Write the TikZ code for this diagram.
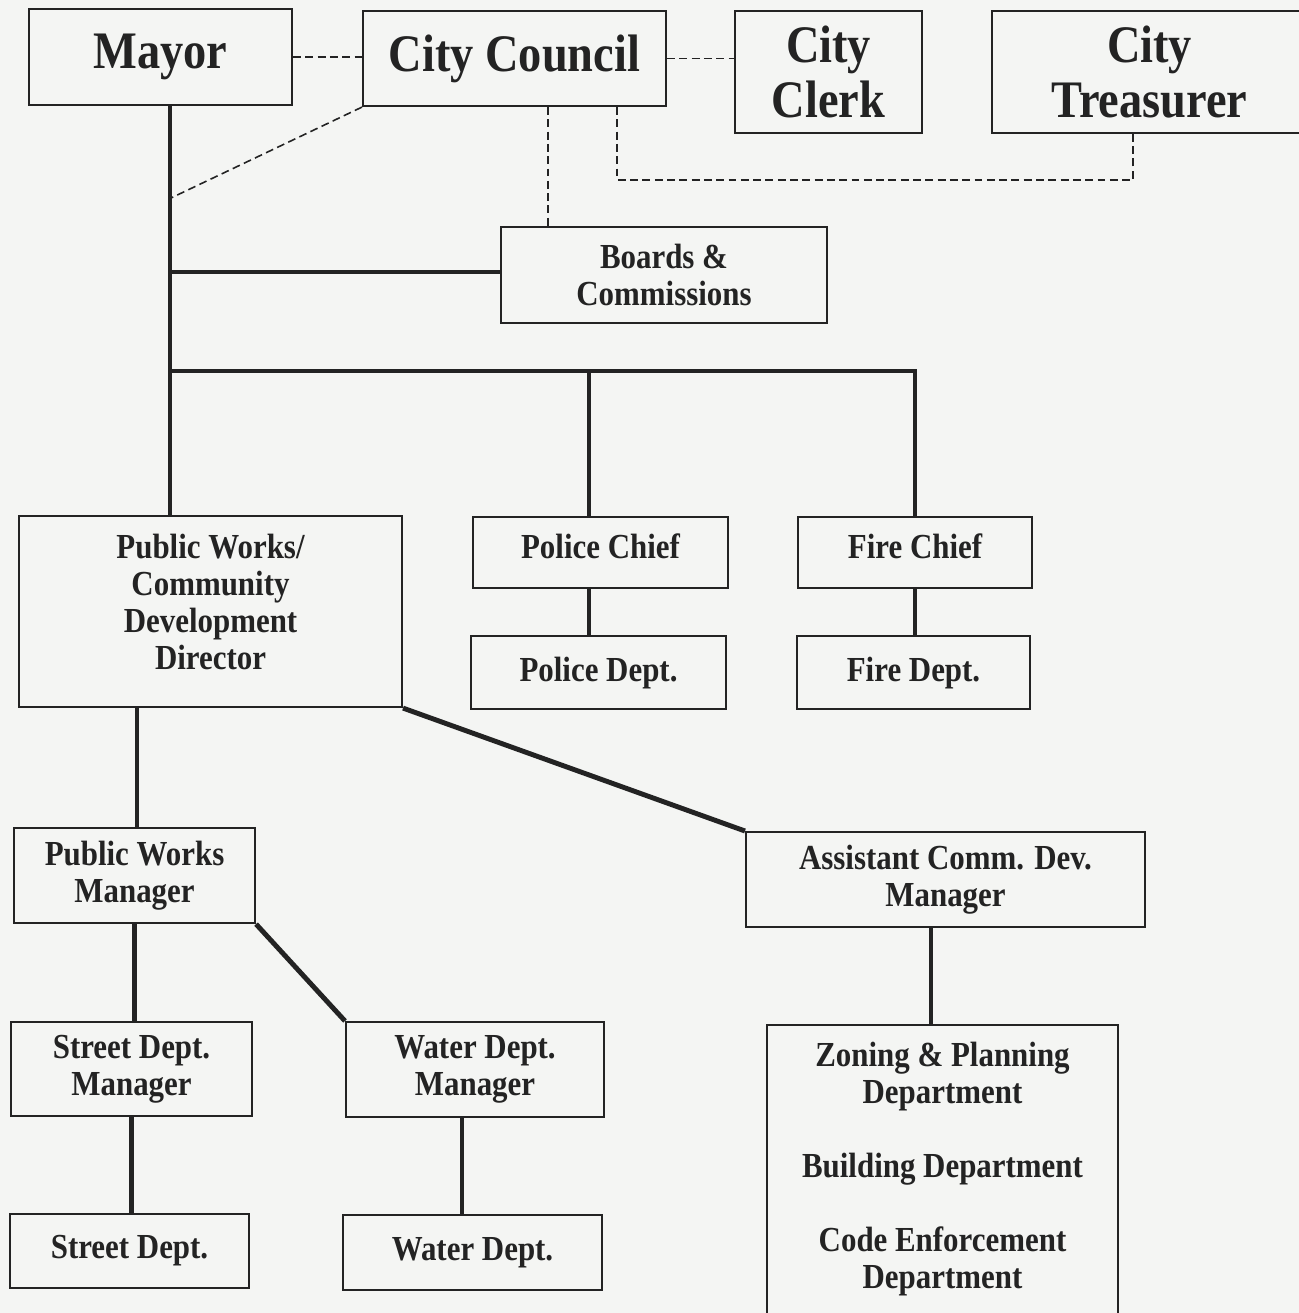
\documentclass[tikz,border=0pt]{standalone}
\usepackage{fontspec}
\setmainfont{Liberation Serif}[FakeStretch=0.88]
\definecolor{paper}{RGB}{244,245,243}
\definecolor{ink}{RGB}{35,35,35}
\begin{document}
\begin{tikzpicture}[x=0.02cm,y=-0.02cm,
    box/.style={draw=ink,line width=1.2pt,inner sep=0pt,anchor=north west,align=center,text=ink,font=\bfseries\fontsize{20}{21}\selectfont},
    bigbox/.style={box,font=\bfseries\fontsize{30}{31}\selectfont},
    link/.style={draw=ink,line width=2.8pt},
    dotlink/.style={draw=ink,line width=0.9pt,dash pattern=on 4.5pt off 2.5pt}]
    \fill[paper] (0,0) rectangle (1299,1313);
    \useasboundingbox (0,0) rectangle (1299,1313);
    \node[bigbox,minimum width=5.26cm,minimum height=1.92cm] (mayor) at (28,8) {Mayor};
    \node[bigbox,minimum width=6.06cm,minimum height=1.9cm] (council) at (362,10) {City Council};
    \node[bigbox,minimum width=3.74cm,minimum height=2.44cm] (clerk) at (734,10) {City\\Clerk};
    \node[bigbox,minimum width=6.3cm,minimum height=2.44cm] (treasurer) at (991,10) {City\\Treasurer};
    \node[box,minimum width=6.52cm,minimum height=1.92cm] (boards) at (500,226) {Boards \&\\Commissions};
    \node[box,minimum width=7.66cm,minimum height=3.82cm,text depth=11pt] (pwdir) at (18,515) {Public Works/\\Community\\Development\\Director};
    \node[box,minimum width=5.1cm,minimum height=1.42cm,text depth=7pt] (polchief) at (472,516) {Police Chief};
    \node[box,minimum width=5.1cm,minimum height=1.46cm] (poldept) at (470,635) {Police Dept.};
    \node[box,minimum width=4.68cm,minimum height=1.42cm,text depth=7pt] (firechief) at (797,516) {Fire Chief};
    \node[box,minimum width=4.66cm,minimum height=1.46cm] (firedept) at (796,635) {Fire Dept.};
    \node[box,minimum width=4.82cm,minimum height=1.9cm] (pwman) at (13,827) {Public Works\\Manager};
    \node[box,minimum width=7.98cm,minimum height=1.9cm] (asst) at (745,831) {Assistant Comm. Dev.\\Manager};
    \node[box,minimum width=4.82cm,minimum height=1.88cm] (streetman) at (10,1021) {Street Dept.\\Manager};
    \node[box,minimum width=5.16cm,minimum height=1.9cm] (waterman) at (345,1021) {Water Dept.\\Manager};
    \node[box,minimum width=4.78cm,minimum height=1.48cm] (streetdept) at (9,1213) {Street Dept.};
    \node[box,minimum width=5.18cm,minimum height=1.5cm] (waterdept) at (342,1214) {Water Dept.};
    \node[box,minimum width=7.02cm,minimum height=5.92cm,text depth=9pt] (zoning) at (766,1024) {Zoning \& Planning\\Department\\[21pt]Building Department\\[21pt]Code Enforcement\\Department};
    \coordinate (tap) at (171,198);
    \coordinate (spine) at (170,272);
    \coordinate (bus) at (170,371);
    \coordinate (policetap) at (589,371);
    \coordinate (bdash) at (548,160);
    \coordinate (loopl) at (617,180);
    \coordinate (loopr) at (1133,180);
    \coordinate (pwx) at (137,760);
    \coordinate (wx) at (462,1165);
    \coordinate (zx) at (931,975);
    \draw[link] (mayor.south -| spine) -- (pwdir.north -| spine);
    \draw[link] (spine) -- (spine -| boards.west);
    \draw[link] (bus) -- (bus -| firechief.north) -- (firechief.north);
    \draw[link] (policetap) -- (policetap |- polchief.north);
    \draw[link] (polchief.south -| policetap) -- (poldept.north -| policetap);
    \draw[link] (firechief.south) -- (firechief.south |- firedept.north);
    \draw[link] (pwdir.south -| pwx) -- (pwman.north -| pwx);
    \draw[link] (pwdir.south east) -- (asst.north west);
    \draw[link] (pwman.south) -- (pwman.south |- streetman.north);
    \draw[link] (pwman.south east) -- (waterman.north west);
    \draw[link] (streetman.south) -- (streetman.south |- streetdept.north);
    \draw[link] (waterman.south -| wx) -- (waterdept.north -| wx);
    \draw[link] (asst.south -| zx) -- (zoning.north -| zx);
    \draw[dotlink] (mayor.east) -- (mayor.east -| council.west);
    \draw[dotlink] (council.east) -- (council.east -| clerk.west);
    \draw[dotlink] (council.south west) -- (tap);
    \draw[dotlink] (council.south -| bdash) -- (boards.north -| bdash);
    \draw[dotlink] (council.south -| loopl) -- (loopl) -- (loopr) -- (loopr |- treasurer.south);
\end{tikzpicture}
\end{document}
